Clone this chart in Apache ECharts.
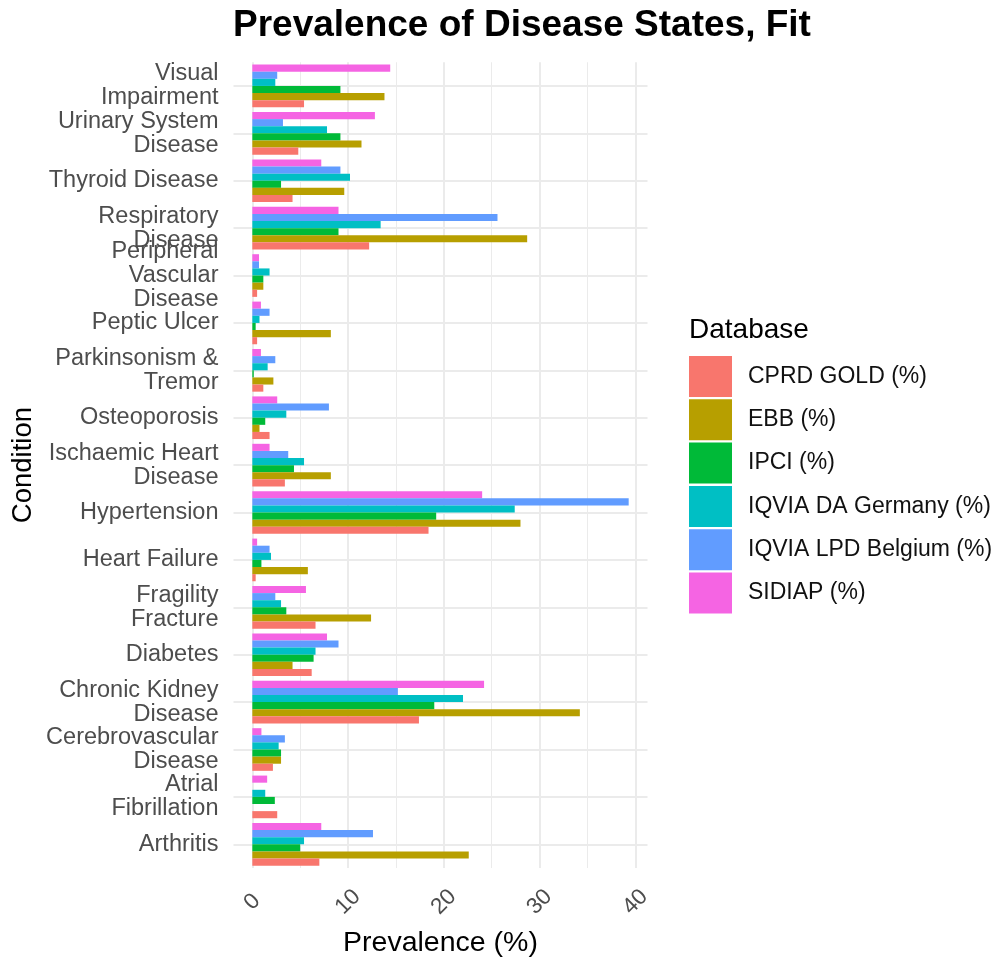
<!DOCTYPE html>
<html>
<head>
<meta charset="utf-8">
<script src="https://cdn.jsdelivr.net/npm/echarts@6/dist/echarts.min.js"></script>
<style>html,body{margin:0;padding:0;background:#fff}#c{width:995px;height:963px}</style>
</head>
<body>
<div id="c"></div>
<script>
// Categories listed bottom -> top (ECharts category axis starts at bottom)
const categories = [
  "Arthritis", "Atrial\nFibrillation", "Cerebrovascular\nDisease", "Chronic Kidney\nDisease",
  "Diabetes", "Fragility\nFracture", "Heart Failure", "Hypertension",
  "Ischaemic Heart\nDisease", "Osteoporosis", "Parkinsonism &\nTremor", "Peptic Ulcer",
  "Peripheral\nVascular\nDisease", "Respiratory\nDisease", "Thyroid Disease",
  "Urinary System\nDisease", "Visual\nImpairment"
];
const cprdGold   = [7.0, 2.6, 2.15, 17.4, 6.2, 6.6, 0.35, 18.4, 3.4, 1.8, 1.15, 0.5, 0.5, 12.2, 4.2, 4.8, 5.4];
const ebb        = [22.6, null, 3.0, 34.2, 4.2, 12.4, 5.8, 28.0, 8.2, 0.75, 2.2, 8.2, 1.15, 28.7, 9.6, 11.4, 13.8];
const ipci       = [5.0, 2.35, 3.0, 19.0, 6.4, 3.55, 0.95, 19.2, 4.35, 1.35, 0.15, 0.35, 1.15, 9.0, 3.0, 9.2, 9.2];
const iqviaDA    = [5.4, 1.35, 2.75, 22.0, 6.6, 3.0, 1.95, 27.4, 5.4, 3.55, 1.6, 0.75, 1.8, 13.4, 10.2, 7.8, 2.4];
const iqviaLPD   = [12.6, null, 3.4, 15.2, 9.0, 2.4, 1.8, 39.3, 3.75, 8.0, 2.4, 1.8, 0.7, 25.6, 9.2, 3.2, 2.6];
const sidiap     = [7.2, 1.55, 0.95, 24.2, 7.8, 5.6, 0.5, 24.0, 1.8, 2.6, 0.9, 0.9, 0.7, 9.0, 7.2, 12.8, 14.4];

const seriesNames = ["CPRD GOLD (%)", "EBB (%)", "IPCI (%)", "IQVIA DA Germany (%)", "IQVIA LPD Belgium (%)", "SIDIAP (%)"];
const seriesData = [cprdGold, ebb, ipci, iqviaDA, iqviaLPD, sidiap];
const colors = ["#F8766D", "#B79F00", "#00BA38", "#00BFC4", "#619CFF", "#F564E3"];

const xTicks = [0, 10, 20, 30, 40];
const xMinorTicks = [5, 15, 25, 35];
const yGridValues = categories.map((_, i) => i);

const FONT = "Liberation Sans, Arial, sans-serif";
const chart = echarts.init(document.getElementById('c'), null, {renderer: 'canvas'});

// first series is drawn at the top of each band -> add in reverse order
const series = [];
for (let i = seriesNames.length - 1; i >= 0; i--) {
  series.push({
    name: seriesNames[i], type: 'bar', data: seriesData[i],
    itemStyle: {color: colors[i]},
    barGap: '0%', barCategoryGap: '10%',
    xAxisIndex: 0, yAxisIndex: 0
  });
}

chart.setOption({
  animation: false,
  textStyle: {fontFamily: FONT},
  title: [
    {text: "Prevalence of Disease States, Fit", left: 233, top: 7, padding: 0,
     textStyle: {fontSize: 37, fontWeight: 'bold', color: '#000', fontFamily: FONT}},
    {text: "Database", left: 689, top: 316, padding: 0,
     textStyle: {fontSize: 28, fontWeight: 'normal', color: '#000', fontFamily: FONT}}
  ],
  legend: {
    data: seriesNames, orient: 'vertical', left: 689, top: 356, padding: 0,
    icon: 'rect', itemWidth: 43, itemHeight: 41, itemGap: 2.3,
    textStyle: {fontSize: 23, color: '#111', fontFamily: FONT, padding: [0, 0, 0, 11]}
  },
  grid: {left: 233.5, top: 62.25, width: 414, height: 807.5, containLabel: false},
  xAxis: [
    {type: 'value', min: -1.965, max: 41.265,
     axisLine: {show: false},
     axisTick: {show: false, customValues: xTicks},
     axisLabel: {customValues: xTicks, rotate: 45, align: 'center', verticalAlign: 'middle',
                 margin: 34, fontSize: 22.5, color: '#4D4D4D', fontFamily: FONT},
     splitLine: {show: true, lineStyle: {color: '#EBEBEB', width: 2}},
     name: 'Prevalence (%)', nameLocation: 'middle', nameGap: 61,
     nameTextStyle: {fontSize: 28.5, color: '#000', fontFamily: FONT}},
    {type: 'value', min: -1.965, max: 41.265, position: 'bottom',
     axisLine: {show: false},
     axisTick: {show: false, customValues: xMinorTicks},
     axisLabel: {show: false},
     splitLine: {show: true, lineStyle: {color: '#EBEBEB', width: 1}}}
  ],
  yAxis: [
    {type: 'category', data: categories,
     axisLine: {show: false}, axisTick: {show: false}, splitLine: {show: false},
     axisLabel: {interval: 0, showMaxLabel: true, showMinLabel: true, hideOverlap: false,
                 fontSize: 23.5, color: '#4D4D4D', lineHeight: 24, margin: 15, fontFamily: FONT, align: 'right',
                 padding: [5, 0, 0, 0]},
     name: 'Condition', nameLocation: 'middle', nameGap: 196,
     nameTextStyle: {fontSize: 27.5, color: '#000', fontFamily: FONT}},
    {type: 'value', min: -0.5, max: 16.5, position: 'left',
     axisLine: {show: false},
     axisTick: {show: false, customValues: yGridValues},
     axisLabel: {show: false},
     splitLine: {show: true, lineStyle: {color: '#EBEBEB', width: 2}}}
  ],
  series: series
});
</script>
</body>
</html>
